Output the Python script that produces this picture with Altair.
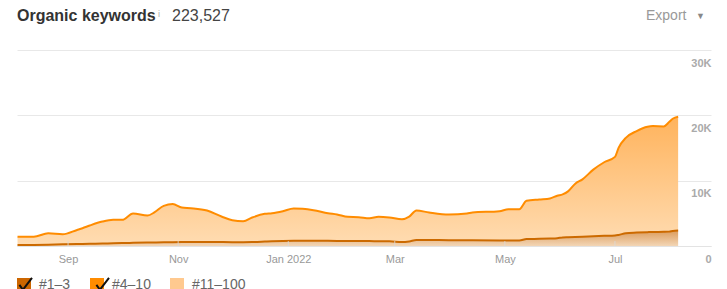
import altair as alt
import pandas as pd

# ---- data ----
dates = [
    "2021-08-04", "2021-08-13", "2021-08-21", "2021-08-29", "2021-09-06", "2021-09-09",
    "2021-09-13", "2021-09-20", "2021-09-26", "2021-10-01", "2021-10-07", "2021-10-15",
    "2021-10-19", "2021-10-24", "2021-10-29", "2021-11-03", "2021-11-08", "2021-11-17",
    "2021-11-25", "2021-12-01", "2021-12-07", "2021-12-12", "2021-12-19", "2021-12-23",
    "2021-12-29", "2022-01-04", "2022-01-09", "2022-01-15", "2022-01-23", "2022-01-28",
    "2022-02-03", "2022-02-09", "2022-02-15", "2022-02-20", "2022-02-26", "2022-03-05",
    "2022-03-09", "2022-03-13", "2022-03-20", "2022-03-31", "2022-04-10", "2022-04-13",
    "2022-04-28", "2022-05-03", "2022-05-09", "2022-05-13", "2022-05-20", "2022-05-26",
    "2022-05-30", "2022-06-02", "2022-06-05", "2022-06-09", "2022-06-13", "2022-06-19",
    "2022-06-25", "2022-07-01", "2022-07-03", "2022-07-07", "2022-07-13", "2022-07-19",
    "2022-07-22", "2022-07-28", "2022-07-31", "2022-08-02", "2022-08-05",
]
kw_1_3 = [
    150, 170, 200, 250, 300, 320, 340, 380, 420, 450, 480, 520, 540, 560, 580, 600, 620, 630,
    610, 590, 580, 600, 680, 730, 780, 800, 810, 800, 790, 780, 770, 760, 750, 740, 720, 600,
    700, 920, 910, 890, 880, 870, 860, 860, 850, 1060, 1100, 1150, 1200, 1300, 1340, 1380,
    1420, 1500, 1560, 1620, 1700, 1950, 2050, 2120, 2150, 2170, 2200, 2300, 2360,
]
kw_4_10 = [
    1280, 1260, 1750, 1550, 2160, 2400, 2790, 3360, 3580, 3550, 4490, 4140, 4640, 5590, 5830,
    5290, 5170, 4800, 3900, 3360, 3210, 3760, 4240, 4290, 4550, 4940, 4880, 4680, 4230, 4040,
    3690, 3650, 3500, 3720, 3640, 3500, 3810, 4510, 4220, 3930, 4090, 4260, 4470, 4780, 4790,
    5860, 6030, 6130, 6490, 6600, 7020, 8160, 8780, 10190, 11260, 12020, 13320, 14610, 15540,
    16130, 16200, 16130, 16770, 17180, 17430,
]
legend_labels = ["#1–3", "#4–10", "#11–100"]
legend_colors = ["#cc6600", "#ff8c00", "#ffc98f"]
legend_checked = [True, True, False]
tick_dates = ["2021-09-01", "2021-11-01", "2022-01-01", "2022-03-01", "2022-05-01", "2022-07-01"]
y_ticks = [0, 10000, 20000, 30000]
title_text = "Organic keywords"
total_text = "223,527"

df = pd.DataFrame({"date": dates, "kw13": kw_1_3, "kw410": kw_4_10})
df["top"] = df["kw13"] + df["kw410"]

FONT = "Liberation Sans"

xscale = alt.Scale(
    type="utc",
    domain=[alt.DateTime(year=2021, month=8, date=3, hours=17, utc=True),
            alt.DateTime(year=2022, month=8, date=23, hours=5, utc=True)],
)
yscale = alt.Scale(domain=[0, 30000], nice=False)

xaxis = alt.Axis(
    values=[alt.DateTime(year=int(d[:4]), month=int(d[5:7]), date=1, utc=True) for d in tick_dates],
    labelExpr="utcmonth(datum.value) == 0 ? utcFormat(datum.value, '%b %Y') : utcFormat(datum.value, '%b')",
    grid=False, ticks=False, domain=True, domainColor="#e3e3e3", domainWidth=1,
    labelColor="#999999", labelFont=FONT, labelFontSize=11, labelPadding=7, title=None,
)
yaxis = alt.Axis(
    orient="right", values=y_ticks,
    labelExpr="datum.value == 0 ? '0' : format(datum.value / 1000, 'd') + 'K'",
    grid=True, gridColor="#e8e8e8", ticks=False, domain=False,
    labelAlign="right", labelPadding=0, labelOffset=13, labelBaseline="middle",
    labelBound=False, labelFlush=False, labelOverlap=False,
    labelColor="#aaaaaa", labelFontWeight="bold", labelFont=FONT, labelFontSize=11,
    title=None,
)


def X(field):
    return alt.X(field, scale=xscale, axis=xaxis)


def Y(field):
    return alt.Y(field, scale=yscale, axis=yaxis)


base = alt.Chart(df)

area_410 = base.mark_area(
    interpolate="monotone",
    color=alt.Gradient(
        gradient="linear", x1=0, x2=0, y1=0, y2=1,
        stops=[alt.GradientStop(color="#ffb35c", offset=0),
               alt.GradientStop(color="#ffdcb2", offset=1)],
    ),
).encode(x=X("date:T"), y=Y("top:Q"), y2="kw13:Q")

area_13 = base.mark_area(
    interpolate="monotone",
    color=alt.Gradient(
        gradient="linear", x1=0, x2=0, y1=0, y2=1,
        stops=[alt.GradientStop(color="#dc9c5c", offset=0),
               alt.GradientStop(color="#f3d6b6", offset=1)],
    ),
).encode(x=X("date:T"), y=Y("kw13:Q"))

line_top = base.mark_line(color="#ff8c00", strokeWidth=2, interpolate="monotone").encode(
    x=X("date:T"), y=Y("top:Q"))
line_13 = base.mark_line(color="#cc6a00", strokeWidth=2, interpolate="monotone").encode(
    x=X("date:T"), y=Y("kw13:Q"))

ticks = alt.Chart(pd.DataFrame({"d": tick_dates})).mark_rule(
    color="#d9d9d9", opacity=0.8).encode(
    x=X("d:T"), y=alt.value(191), y2=alt.value(196))

# legend (hidden marks outside the domain, clipped; only the legends show)
check_keys = ["c" + s for s in legend_labels]
leg_df = pd.DataFrame({"series": legend_labels, "check": check_keys,
                       "date": ["2019-01-01"] * 3, "v": [0, 0, 0]})
common_leg = dict(orient="none", legendX=0, legendY=228, direction="horizontal", title=None,
                  symbolSize=196, labelFont=FONT, labelFontSize=14, labelOffset=8,
                  columnPadding=19, padding=0)
leg_color = alt.Chart(leg_df).mark_square(clip=True, size=196, opacity=1).encode(
    x=X("date:T"), y=Y("v:Q"),
    color=alt.Color("series:N", scale=alt.Scale(domain=legend_labels, range=legend_colors),
                    legend=alt.Legend(symbolType="square", symbolStrokeWidth=0,
                                      symbolOpacity=1, labelColor="#666666", **common_leg)),
)
CHECK = "M-0.8,-0.2L-0.3,0.5L1,-1.2"
NOCHECK = "M0,0"
leg_check = alt.Chart(leg_df).mark_point(clip=True, size=196, filled=False).encode(
    x=X("date:T"), y=Y("v:Q"),
    shape=alt.Shape("check:N",
                    scale=alt.Scale(domain=check_keys,
                                    range=[CHECK if c else NOCHECK for c in legend_checked]),
                    legend=alt.Legend(symbolStrokeColor="#111111", symbolFillColor="transparent",
                                      symbolStrokeWidth=2, symbolOpacity=1, labelOpacity=0,
                                      labelExpr="substring(datum.label, 1)",
                                      labelColor="#666666", **common_leg)),
)


def label(text, x, y, **kw):
    return alt.Chart(pd.DataFrame({"t": [text]})).mark_text(
        align="left", baseline="alphabetic", font=FONT, **kw).encode(
        text="t:N", x=alt.value(x), y=alt.value(y))


t_title = label(title_text, 0, -29, fontSize=16, fontWeight="bold", color="#333333")
t_info = label("i", 141, -33, fontSize=9, color="#aaaaaa")
t_total = label(total_text, 155, -29, fontSize=16, color="#444444")
t_export = label("Export", 629, -30, fontSize=14, color="#999999")
t_arrow = label("▼", 679, -31, fontSize=9, color="#888888")

chart = alt.layer(
    area_410, area_13, line_top, line_13, ticks, leg_color, leg_check,
    t_title, t_info, t_total, t_export, t_arrow,
).properties(
    width=694, height=196,
    autosize=alt.AutoSizeParams(type="none"),
    padding={"left": 17, "top": 50, "right": 16, "bottom": 43},
    background="white",
).configure_view(stroke=None)

chart.save("out.html", embed_options={"renderer": "svg", "actions": False})
